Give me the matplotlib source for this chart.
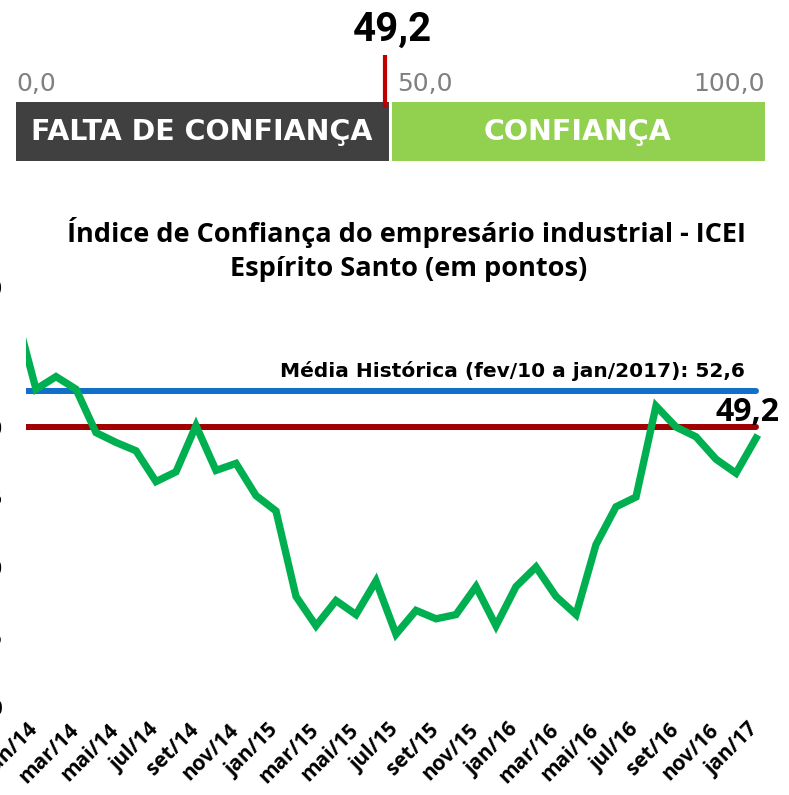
import matplotlib
matplotlib.use("Agg")
import matplotlib.pyplot as plt
import matplotlib.transforms as mtransforms
import numpy as np

W, H = 789, 795

# dados: ICEI Espírito Santo (dez/13 fica fora da área, só aparece o início da linha)
meses = ["dez/13",
         "jan/14", "fev/14", "mar/14", "abr/14", "mai/14", "jun/14", "jul/14", "ago/14",
         "set/14", "out/14", "nov/14", "dez/14",
         "jan/15", "fev/15", "mar/15", "abr/15", "mai/15", "jun/15", "jul/15", "ago/15",
         "set/15", "out/15", "nov/15", "dez/15",
         "jan/16", "fev/16", "mar/16", "abr/16", "mai/16", "jun/16", "jul/16", "ago/16",
         "set/16", "out/16", "nov/16", "dez/16",
         "jan/17"]
icei = [58.1,
        52.7, 53.6, 52.7, 49.6, 48.9, 48.3, 46.1, 46.8, 50.1, 46.9, 47.4, 45.1,
        44.0, 37.9, 35.8, 37.6, 36.6, 39.0, 35.2, 36.9, 36.3, 36.6, 38.6, 35.8,
        38.6, 40.0, 37.9, 36.6, 41.6, 44.3, 45.0, 51.5, 50.0, 49.3, 47.7, 46.7,
        49.2]
media_historica = 52.6
linha_50 = 50.0
valor_atual = 49.2
yticks = [30, 35, 40, 45, 50, 55, 60]


def fx(px):
    return px / W


def fy(py):
    return 1 - py / H


fig = plt.figure(figsize=(W / 100, H / 100), dpi=100)

# --- termômetro no topo ---
gax = fig.add_axes([fx(16), fy(161), fx(765) - fx(16), fy(102) - fy(161)])
gax.set_xlim(0, 100)
gax.set_ylim(0, 1)
gax.axis("off")
gax.barh(0.5, 49.75, left=0, height=1.0, color="#404040")
gax.barh(0.5, 49.75, left=50.25, height=1.0, color="#92D050")
gax.text(24.8, 0.5, "FALTA DE CONFIANÇA", color="white", fontsize=20.5, fontweight="bold",
         ha="center", va="center", family="DejaVu Sans")
gax.text(75.0, 0.5, "CONFIANÇA", color="white", fontsize=20.5, fontweight="bold",
         ha="center", va="center", family="DejaVu Sans")
gax.plot([valor_atual, valor_atual], [0.9, 1.8], color="#C00000", lw=3,
         clip_on=False, solid_capstyle="butt")

gx0 = fx(16)
gw = fx(765) - fx(16)
for v, ha in [(0, "left"), (50, "left"), (100, "right")]:
    xx = gx0 + gw * v / 100 + (0.008 if v == 50 else 0)
    fig.text(xx, fy(84), f"{v},0", color="#808080", fontsize=18,
             ha=ha, va="center", family="DejaVu Sans")
fig.text(fx(392), fy(30), "49,2", fontsize=29,
         fontweight="bold", ha="center", va="center", family="Roboto")

# --- título ---
fig.text(fx(406), fy(232), "Índice de Confiança do empresário industrial - ICEI",
         fontsize=19.5, fontweight="bold", ha="center", va="center", family="Open Sans")
fig.text(fx(409), fy(269), "Espírito Santo (em pontos)",
         fontsize=19.5, fontweight="bold", ha="center", va="center", family="Open Sans")

# --- gráfico de linha ---
ax = fig.add_axes([fx(26), fy(707), fx(766) - fx(26), fy(287) - fy(707)])
x = np.arange(len(icei)) - 1
ax.plot([x[0], x[-1]], [media_historica] * 2, color="#1070C8", lw=4.3,
        solid_capstyle="round")
ax.plot([x[0], x[-1]], [linha_50] * 2, color="#A00000", lw=4.3,
        solid_capstyle="round")
ax.plot(x, icei, color="#00B050", lw=5.3, solid_joinstyle="miter")
ax.set_xlim(-0.5, 36.5)
ax.set_ylim(30, 60)

ax.text(23.8, 53.3, "Média Histórica (fev/10 a jan/2017): 52,6", fontsize=14.5,
        fontweight="bold", ha="center", va="bottom", family="DejaVu Sans")
ax.text(x[-1] - 2.05, 51.05, "49,2", fontsize=23, fontweight="bold",
        ha="left", va="center", family="Open Sans", clip_on=False)

ax.set_yticks(yticks)
ax.set_yticklabels([str(v) for v in yticks], fontsize=15, fontweight="bold",
                   family="Open Sans")
ax.tick_params(axis="y", length=0, pad=17)
xt = list(range(0, 37, 2))
ax.set_xticks(xt)
ax.set_xticklabels([meses[i + 1] for i in xt], rotation=45, ha="right",
                   rotation_mode="anchor", fontsize=15, fontweight="bold",
                   family="Open Sans")
ax.tick_params(axis="x", length=0, pad=9)
shift = mtransforms.ScaledTranslation(-8 / 100, 0, fig.dpi_scale_trans)
for lbl in ax.get_xticklabels():
    lbl.set_transform(lbl.get_transform() + shift)
for s in ax.spines.values():
    s.set_visible(False)

fig.savefig("out.png", dpi=100)
